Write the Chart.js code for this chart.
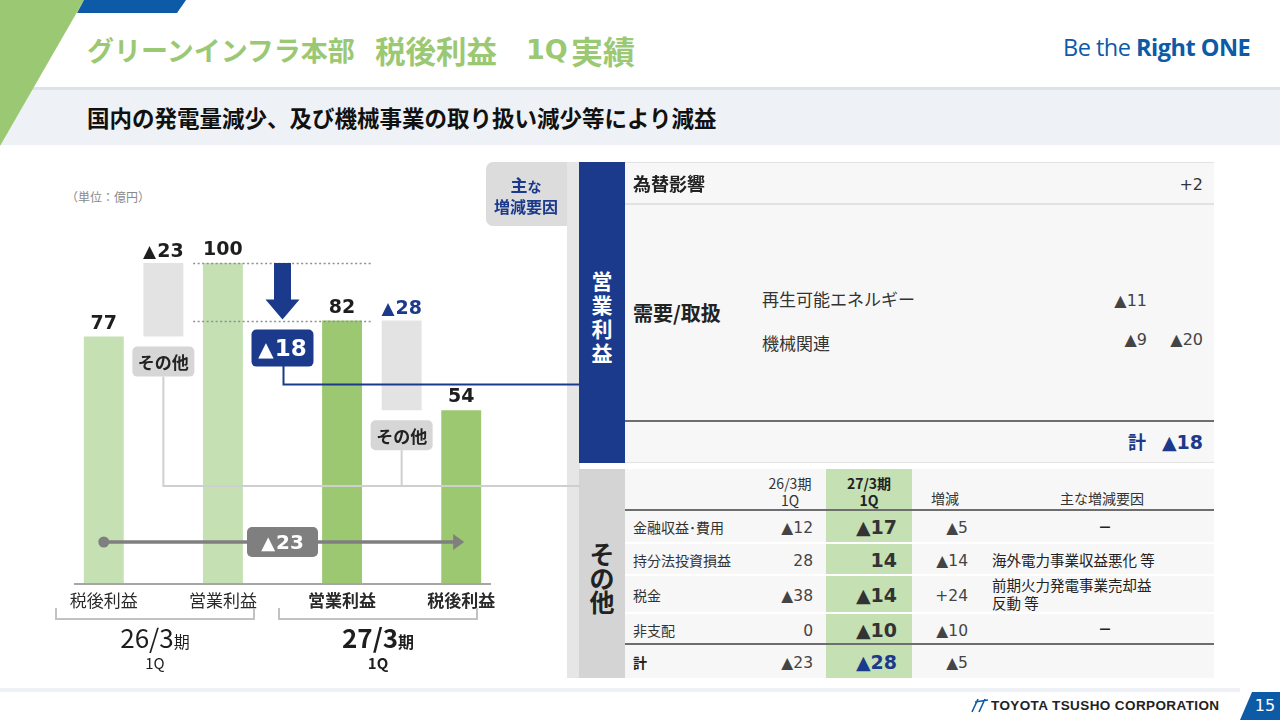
<!DOCTYPE html>
<html lang="ja">
<head>
<meta charset="utf-8">
<script src="https://cdn.jsdelivr.net/npm/chart.js@4.4.1/dist/chart.umd.min.js"></script>
<style>
  body{margin:0;width:1280px;height:720px;position:relative;overflow:hidden;background:#fff;
       font-family:"Noto Sans CJK JP",sans-serif;color:#222}
  .a{position:absolute}
  .t{position:absolute;white-space:nowrap;transform:translateY(-50%);line-height:1.2}
  .r{position:absolute;white-space:nowrap;transform:translate(-100%,-50%);line-height:1.2}
  .c{position:absolute;white-space:nowrap;transform:translate(-50%,-50%);line-height:1.2;text-align:center}
  .num{font-family:"DejaVu Sans","Noto Sans CJK JP",sans-serif}
  .b{font-weight:bold}
  .navy{color:#1b3a8c}
  .ttl{position:absolute;top:50px;transform:translateY(-50%);font-weight:bold;color:#9bc872;white-space:nowrap;line-height:1.2}
</style>
</head>
<body>
<svg class="a" style="left:0;top:0" width="1280" height="720">
  <rect x="0" y="87" width="1280" height="58" fill="#eef2f6"/>
  <rect x="0" y="87" width="1280" height="3" fill="#dde3ea"/>
  <polygon points="0,0 84,0 0,146" fill="#9bc872"/>
  <polygon points="84,0 186,0 177,13 77,13" fill="#0d5aa7"/>
  <rect x="0" y="688" width="1240" height="4" fill="#eef2f6"/>
  <polygon points="1252,692 1280,692 1280,720 1240,720" fill="#0d5aa7"/>
  <!-- right panel frames -->
  <path d="M493,162 H567 V226 H493 A7,7 0 0 1 486,219 V169 A7,7 0 0 1 493,162 Z" fill="#dcdcdc"/>
  <rect x="567" y="162" width="13" height="516" fill="#e6e6e6"/>
  <rect x="579" y="162" width="46" height="301" fill="#1b3a8c"/>
  <rect x="625" y="162" width="589" height="301" fill="#f7f7f7"/>
  <rect x="625" y="162" width="589" height="1" fill="#e2e2e2"/>
  <rect x="625" y="203" width="589" height="2" fill="#e2e2e2"/>
  <rect x="625" y="420" width="589" height="2" fill="#6e6e6e"/>
  <rect x="625" y="462" width="589" height="1" fill="#e2e2e2"/>
  <rect x="579" y="469" width="46" height="209" fill="#d4d4d4"/>
  <rect x="625" y="469" width="589" height="209" fill="#f7f7f7"/>
  <rect x="826" y="469" width="86" height="209" fill="#c5e0b3"/>
  <rect x="625" y="542" width="589" height="2" fill="#ffffff"/>
  <rect x="625" y="574" width="589" height="2" fill="#ffffff"/>
  <rect x="625" y="612" width="589" height="2" fill="#ffffff"/>
  <rect x="625" y="509" width="589" height="2" fill="#6e6e6e"/>
  <rect x="625" y="643" width="589" height="2" fill="#6e6e6e"/>
  <!-- footer mark -->
  <path d="M972,712 L978,699 M979,712 L985,699 M975,702 L988,700" stroke="#0d5aa7" stroke-width="1.6" fill="none"/>
</svg>

<div class="ttl" style="left:87px;font-size:27px">グリーンインフラ本部</div>
<div class="ttl" style="left:375px;font-size:30.5px">税後利益</div>
<div class="ttl num" style="left:526px;font-size:27px">1Q</div>
<div class="ttl" style="left:571px;font-size:32px">実績</div>
<div class="a" style="left:1063px;top:32px;font-family:'Open Sans',sans-serif;font-size:23.5px;line-height:30px;color:#0d5aa7;letter-spacing:-0.5px">Be the <b>Right ONE</b></div>
<div class="t b" style="left:87px;top:117px;font-size:22.5px;color:#111">国内の発電量減少、及び機械事業の取り扱い減少等により減益</div>

<div class="t" style="left:66px;top:197px;font-size:12px;color:#8a8a8a">（単位：億円）</div>

<canvas id="c" width="580" height="540" style="position:absolute;left:0;top:150px"></canvas>

<!-- main factors tab -->
<div class="c b navy" style="left:526px;top:185px;font-size:17px">主<span style="font-size:14px">な</span></div>
<div class="c b navy" style="left:526px;top:207px;font-size:16px">増減要因</div>

<!-- operating profit block -->
<div class="c b" style="left:602px;top:316px;font-size:21px;color:#fff;line-height:24px;white-space:normal;width:24px">営業利益</div>
<div class="t b" style="left:633px;top:184px;font-size:18px">為替影響</div>
<div class="r num" style="left:1203px;top:185px;font-size:16px;color:#333">+2</div>
<div class="t b" style="left:633px;top:313px;font-size:20px">需要/取扱</div>
<div class="t" style="left:762px;top:299px;font-size:17px;color:#333">再生可能エネルギー</div>
<div class="t" style="left:762px;top:343px;font-size:17px;color:#333">機械関連</div>
<div class="r num" style="left:1147px;top:301px;font-size:16px;color:#444">▲11</div>
<div class="r num" style="left:1147px;top:340px;font-size:16px;color:#444">▲9</div>
<div class="r num" style="left:1203px;top:340px;font-size:16px;color:#444">▲20</div>
<div class="t b navy" style="left:1128px;top:442px;font-size:18px">計</div>
<div class="r num b navy" style="left:1203px;top:442px;font-size:19px">▲18</div>

<!-- other block -->
<div class="c b" style="left:602px;top:577px;font-size:25px;line-height:24px;white-space:normal;width:26px">その他</div>
<div class="c" style="left:790px;top:483px;font-size:14px;color:#333">26/3期</div>
<div class="c" style="left:790px;top:500px;font-size:14px;color:#333">1Q</div>
<div class="c b" style="left:869px;top:483px;font-size:14px">27/3期</div>
<div class="c b" style="left:869px;top:500px;font-size:14px">1Q</div>
<div class="t" style="left:931px;top:498px;font-size:14px;color:#333">増減</div>
<div class="c" style="left:1102px;top:498px;font-size:14px;color:#333">主な増減要因</div>

<div class="t" style="left:633px;top:527px;font-size:14px;color:#333">金融収益･費用</div>
<div class="t" style="left:633px;top:560px;font-size:14px;color:#333">持分法投資損益</div>
<div class="t" style="left:633px;top:595px;font-size:14px;color:#333">税金</div>
<div class="t" style="left:633px;top:630px;font-size:14px;color:#333">非支配</div>
<div class="t b" style="left:633px;top:662px;font-size:14px">計</div>

<div class="r num" style="left:813px;top:528px;font-size:15.5px;color:#444">▲12</div>
<div class="r num" style="left:813px;top:561px;font-size:15.5px;color:#444">28</div>
<div class="r num" style="left:813px;top:596px;font-size:15.5px;color:#444">▲38</div>
<div class="r num" style="left:813px;top:631px;font-size:15.5px;color:#444">0</div>
<div class="r num" style="left:813px;top:663px;font-size:15.5px;color:#444">▲23</div>

<div class="r num b" style="left:897px;top:527px;font-size:19px;color:#333">▲17</div>
<div class="r num b" style="left:897px;top:560px;font-size:19px;color:#333">14</div>
<div class="r num b" style="left:897px;top:595px;font-size:19px;color:#333">▲14</div>
<div class="r num b" style="left:897px;top:630px;font-size:19px;color:#333">▲10</div>
<div class="r num b navy" style="left:897px;top:662px;font-size:19px">▲28</div>

<div class="r num" style="left:968px;top:528px;font-size:15.5px;color:#444">▲5</div>
<div class="r num" style="left:968px;top:561px;font-size:15.5px;color:#444">▲14</div>
<div class="r num" style="left:968px;top:596px;font-size:15.5px;color:#444">+24</div>
<div class="r num" style="left:968px;top:631px;font-size:15.5px;color:#444">▲10</div>
<div class="r num" style="left:968px;top:663px;font-size:15.5px;color:#444">▲5</div>

<div class="c b" style="left:1105px;top:526px;font-size:14px">－</div>
<div class="t" style="left:992px;top:560px;font-size:14.5px;color:#222">海外電力事業収益悪化 等</div>
<div class="t" style="left:992px;top:585px;font-size:14.5px;color:#222">前期火力発電事業売却益</div>
<div class="t" style="left:992px;top:603px;font-size:14.5px;color:#222">反動 等</div>
<div class="c b" style="left:1105px;top:628px;font-size:14px">－</div>

<div class="t b" style="left:991px;top:706px;font-family:'Liberation Sans',Arial,sans-serif;font-size:13.5px;letter-spacing:0.4px;color:#222">TOYOTA TSUSHO CORPORATION</div>
<div class="c" style="left:1265px;top:706px;font-family:'DejaVu Sans',sans-serif;font-size:16px;color:#fff">15</div>

<script>
// waterfall data (億円)
const categories = ['26/3期 税後利益', 'その他', '26/3期 営業利益', '営業利益 増減', '27/3期 営業利益', 'その他', '27/3期 税後利益'];
const axisLabels = ['税後利益', '', '営業利益', '', '営業利益', '', '税後利益'];
const periods = ['26/3', '27/3'];
const profitValues = [77, 100, 82, 54];   // 26/3税後, 26/3営業, 27/3営業, 27/3税後
const otherChanges = [-23, -28];          // その他 26/3, 27/3
const opChange = -18;                     // 営業利益 増減
const netChange = -23;                    // 税後利益 増減

const fmt = v => v < 0 ? '▲' + Math.abs(v) : String(v);

const waterfall = [
  [0, profitValues[0]],
  [profitValues[0], profitValues[0] - otherChanges[0]],
  [0, profitValues[1]],
  [profitValues[1] + opChange, profitValues[1]],
  [0, profitValues[2]],
  [profitValues[2] + otherChanges[1], profitValues[2]],
  [0, profitValues[3]]
];
const topLabels = [fmt(profitValues[0]), fmt(otherChanges[0]), fmt(profitValues[1]), '',
                   fmt(profitValues[2]), fmt(otherChanges[1]), fmt(profitValues[3])];

const NAVY = '#1b3a8c';
const NUMFONT = '"DejaVu Sans","Noto Sans CJK JP",sans-serif';
const JPFONT = '"Noto Sans CJK JP",sans-serif';

// draws "▲nn" with the triangle sitting on the digits' baseline
function drawDelta(ctx, text, cx, cy, size, color, align) {
  ctx.fillStyle = color;
  ctx.textBaseline = 'alphabetic';
  ctx.textAlign = 'left';
  const base = cy + size * 0.36;
  let tri = '', rest = text;
  if (text[0] === '▲') { tri = '▲'; rest = text.slice(1); }
  const ts = Math.round(size * 0.88);
  ctx.font = 'bold ' + ts + 'px ' + NUMFONT;
  const w1 = tri ? ctx.measureText(tri).width + 1 : 0;
  ctx.font = 'bold ' + size + 'px ' + NUMFONT;
  const w2 = ctx.measureText(rest).width;
  let x0 = cx - (w1 + w2) / 2;
  if (align === 'right') x0 = cx - w1 - w2;
  if (tri) {
    ctx.font = 'bold ' + ts + 'px ' + NUMFONT;
    ctx.fillText(tri, x0, base);
  }
  ctx.font = 'bold ' + size + 'px ' + NUMFONT;
  ctx.fillText(rest, x0 + w1, base);
}

function path(ctx, pts) {
  ctx.beginPath();
  ctx.moveTo(pts[0][0], pts[0][1]);
  for (let i = 1; i < pts.length; i++) ctx.lineTo(pts[i][0], pts[i][1]);
  ctx.stroke();
}

function tagBox(ctx, cx, top, w, h, fill, text, size, color) {
  ctx.fillStyle = fill;
  ctx.beginPath();
  ctx.roundRect(cx - w / 2, top, w, h, 5);
  ctx.fill();
  if (text.indexOf('▲') === 0) {
    drawDelta(ctx, text, cx, top + h / 2, size, color);
  } else {
    ctx.fillStyle = color;
    ctx.font = 'bold ' + size + 'px ' + JPFONT;
    ctx.textAlign = 'center';
    ctx.textBaseline = 'middle';
    ctx.fillText(text, cx, top + h / 2 + 1);
  }
}

const decorations = {
  id: 'decorations',
  afterDatasetsDraw(chart) {
    const {ctx, chartArea: a, scales: {x, y}} = chart;
    const xs = i => x.getPixelForValue(i);
    const ys = v => y.getPixelForValue(v);
    const slot = xs(1) - xs(0);
    const W = chart.width;
    ctx.save();

    // dotted guide lines at 26/3 and 27/3 operating profit
    ctx.strokeStyle = '#8f8f8f';
    ctx.lineWidth = 1.5;
    ctx.setLineDash([2, 2.5]);
    [profitValues[1], profitValues[2]].forEach(v => {
      const py = Math.round(ys(v)) + 0.5;
      path(ctx, [[xs(2) - slot / 2, py], [xs(5) - slot / 2, py]]);
    });
    ctx.setLineDash([]);

    // grey connectors from その他 to the table
    const box1Top = ys(waterfall[1][0]) + 10, box2Top = ys(waterfall[5][0]) + 10;
    const cy = a.bottom - 97;
    ctx.strokeStyle = '#cfcfcf';
    ctx.lineWidth = 2;
    path(ctx, [[xs(1), box1Top + 30], [xs(1), cy], [W, cy]]);
    path(ctx, [[xs(5), box2Top + 30], [xs(5), cy]]);

    // blue connector from ▲18
    const bTop = ys(profitValues[2]) + 9;
    const by = ys(profitValues[2]) + 64;
    ctx.strokeStyle = NAVY;
    ctx.lineWidth = 2;
    path(ctx, [[xs(3) + 1, bTop + 30], [xs(3) + 1, by], [W, by]]);

    // down arrow for operating profit change
    const ax = xs(3), aTop = ys(waterfall[3][1]), aTip = ys(waterfall[3][0]) - 1;
    ctx.fillStyle = NAVY;
    ctx.beginPath();
    ctx.moveTo(ax - 8.5, aTop);
    ctx.lineTo(ax + 8.5, aTop);
    ctx.lineTo(ax + 8.5, aTip - 20);
    ctx.lineTo(ax + 17, aTip - 20);
    ctx.lineTo(ax, aTip);
    ctx.lineTo(ax - 17, aTip - 20);
    ctx.lineTo(ax - 8.5, aTip - 20);
    ctx.closePath();
    ctx.fill();

    tagBox(ctx, xs(1), box1Top, 62, 30, '#d6d6d6', 'その他', 17, '#222');
    tagBox(ctx, xs(5), box2Top, 62, 30, '#d6d6d6', 'その他', 17, '#222');
    tagBox(ctx, xs(3), bTop, 62, 37, NAVY, fmt(opChange), 23, '#fff');

    // net change arrow across the chart
    const ny = a.bottom - 41;
    ctx.strokeStyle = '#7f7f7f';
    ctx.fillStyle = '#7f7f7f';
    ctx.lineWidth = 3.5;
    path(ctx, [[xs(0), ny], [xs(6) - 6, ny]]);
    ctx.beginPath(); ctx.arc(xs(0), ny, 5.5, 0, Math.PI * 2); ctx.fill();
    ctx.beginPath();
    ctx.moveTo(xs(6) + 3, ny); ctx.lineTo(xs(6) - 8, ny - 8); ctx.lineTo(xs(6) - 8, ny + 8);
    ctx.closePath(); ctx.fill();
    tagBox(ctx, (xs(0) + xs(6)) / 2, ny - 15, 71, 30, '#7f7f7f', fmt(netChange), 20, '#fff');

    // value labels above bars
    topLabels.forEach((t, i) => {
      if (!t) return;
      const py = ys(Math.max(waterfall[i][0], waterfall[i][1])) - 13;
      const col = i === 5 ? NAVY : '#1e1e1e';
      if (t[0] === '▲') drawDelta(ctx, t, xs(i), py, 19, col);
      else {
        ctx.fillStyle = col;
        ctx.font = 'bold 19px ' + NUMFONT;
        ctx.textAlign = 'center';
        ctx.textBaseline = 'middle';
        ctx.fillText(t, xs(i), py);
      }
    });

    // baseline
    ctx.strokeStyle = '#a6a6a6';
    ctx.lineWidth = 2;
    path(ctx, [[a.left, a.bottom + 1], [a.right, a.bottom + 1]]);

    // category labels
    ctx.textAlign = 'center';
    ctx.textBaseline = 'middle';
    axisLabels.forEach((t, i) => {
      if (!t) return;
      ctx.fillStyle = '#2a2a2a';
      ctx.font = (i > 3 ? 'bold ' : '') + '17px ' + JPFONT;
      ctx.fillText(t, xs(i), a.bottom + 18);
    });

    // period brackets
    const brackets = [[56, 254], [279, 477]];
    ctx.strokeStyle = '#c2c2c2';
    ctx.lineWidth = 2;
    brackets.forEach(([l, r], k) => {
      const yb = a.bottom + 36;
      path(ctx, [[l, a.bottom + 25], [l, yb], [r, yb], [r, a.bottom + 25]]);
      const cx = (l + r) / 2;
      const wt = k === 1 ? 'bold ' : '';
      ctx.fillStyle = '#1e1e1e';
      ctx.textBaseline = 'alphabetic';
      ctx.textAlign = 'left';
      ctx.font = wt + '26px ' + JPFONT;
      const w1 = ctx.measureText(periods[k]).width;
      ctx.font = wt + '16px ' + JPFONT;
      const w2 = ctx.measureText('期').width;
      const x0 = cx - (w1 + w2) / 2;
      ctx.font = wt + '26px ' + JPFONT;
      ctx.fillText(periods[k], x0, a.bottom + 65);
      ctx.font = wt + '16px ' + JPFONT;
      ctx.fillText('期', x0 + w1, a.bottom + 65);
      ctx.textAlign = 'center';
      ctx.textBaseline = 'middle';
      ctx.font = wt + '15px ' + JPFONT;
      ctx.fillText('1Q', cx, a.bottom + 80);
    });
    ctx.restore();
  }
};

new Chart(document.getElementById('c'), {
  type: 'bar',
  data: {
    labels: categories,
    datasets: [{
      data: waterfall,
      backgroundColor: ['#c5e0b3', '#e3e3e3', '#c5e0b3', 'rgba(0,0,0,0)', '#9bc871', '#e3e3e3', '#9bc871'],
      borderWidth: 0,
      barPercentage: 0.67,
      categoryPercentage: 1
    }]
  },
  options: {
    responsive: false,
    animation: false,
    layout: {padding: {left: 74, right: 89, top: 49, bottom: 107}},
    plugins: {legend: {display: false}, tooltip: {enabled: false}},
    scales: {
      x: {display: false, offset: true},
      y: {display: false, min: 0, max: 120}
    }
  },
  plugins: [decorations]
});
</script>
</body>
</html>
